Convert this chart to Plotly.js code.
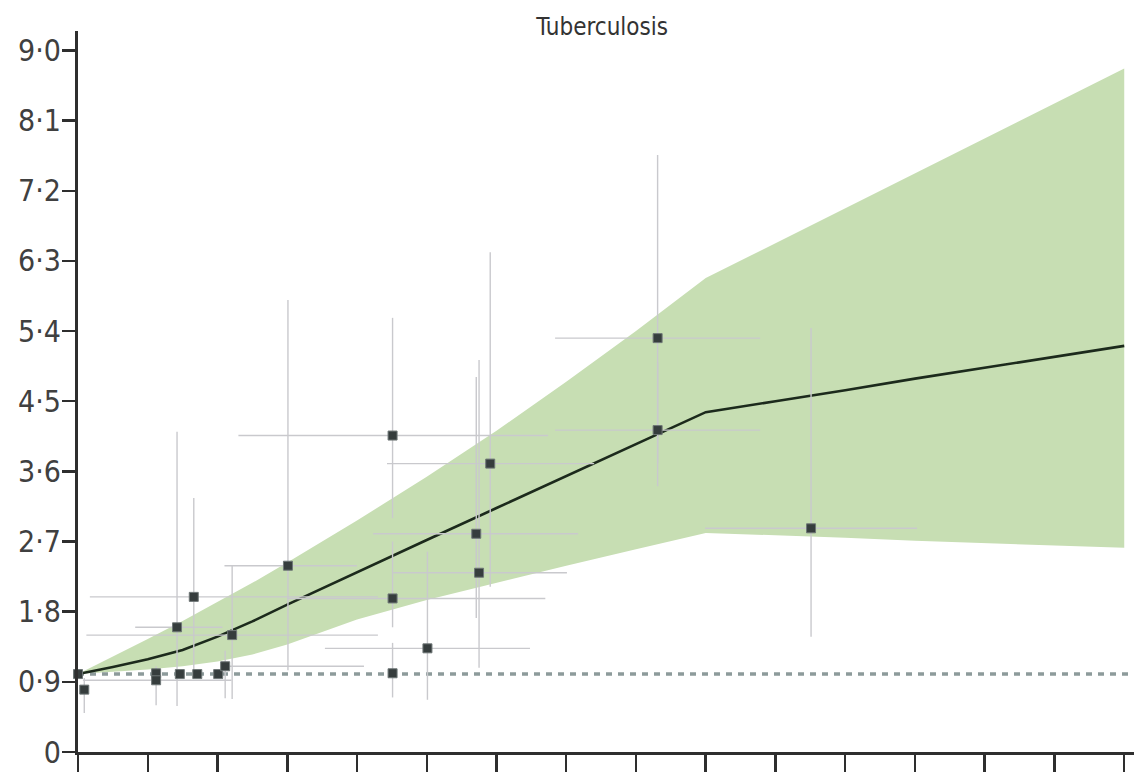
<!DOCTYPE html>
<html>
<head>
<meta charset="utf-8">
<script src="https://cdn.plot.ly/plotly-3.0.1.min.js"></script>
<style>html,body{margin:0;padding:0;background:#fff;}#chart{width:1134px;height:774px;}</style>
</head>
<body>
<div id="chart"></div>
<script>
// ---- data ----
const titleText = 'Tuberculosis';
const xTickVals = [0,10,20,30,40,50,60,70,80,90,100,110,120,130,140,150];
const yTickVals = [0,0.9,1.8,2.7,3.6,4.5,5.4,6.3,7.2,8.1,9.0];
const yTickText = ['0','0·9','1·8','2·7','3·6','4·5','5·4','6·3','7·2','8·1','9·0'];

const curveX = [0,5,10,15,20,25,30,35,40,50,60,70,80,90,100,110,120,130,140,150];
const curveY = [1.00,1.09,1.19,1.31,1.48,1.675,1.89,2.10,2.31,2.72,3.13,3.54,3.95,4.36,4.50,4.64,4.79,4.93,5.07,5.21];
const upperY = [1.00,1.22,1.45,1.68,1.92,2.17,2.43,2.70,2.97,3.53,4.12,4.75,5.40,6.08,6.53,6.97,7.42,7.87,8.32,8.77];
const lowerY = [1.00,1.03,1.06,1.10,1.16,1.25,1.38,1.54,1.70,1.95,2.17,2.39,2.60,2.81,2.78,2.75,2.71,2.68,2.65,2.62];

const refX = [0, 151.4];
const refY = [1, 1];

const ptX   = [0,   0.9, 11.2, 11.2, 14.2, 16.6, 14.6, 17.1, 20.1, 21.1, 22.1, 30.1, 45.1, 45.1, 45.1, 50.1, 57.1, 57.5, 59.1, 83.1, 83.1, 105.1];
const ptY   = [1.0, 0.80, 1.01, 0.92, 1.60, 1.99, 1.00, 1.00, 1.00, 1.10, 1.50, 2.39, 4.06, 1.97, 1.01, 1.33, 2.80, 2.30, 3.70, 5.31, 4.13, 2.87];
const ptXlo = [0,   0.9, 11.2, 0.7,  8.2,  1.7,  14.6, 17.1, 20.1, 21.1, 1.2,  21.0, 23.0, 30.0, 45.1, 35.4, 42.3, 45.2, 44.3, 68.4, 68.4, 89.9];
const ptXhi = [0,   0.9, 11.2, 22.0, 20.7, 43.0, 14.6, 17.1, 20.1, 41.0, 43.0, 40.0, 67.4, 67.0, 45.1, 64.8, 71.7, 70.1, 74.0, 97.8, 97.8, 120.3];
const ptYlo = [1.0, 0.50, 0.92, 0.60, 0.59, 1.00, 0.95, 0.95, 0.95, 0.69, 0.68, 1.05, 3.00, 1.60, 0.70, 0.67, 1.72, 1.08, 2.12, 3.70, 3.41, 1.48];
const ptYhi = [1.0, 0.95, 1.10, 1.05, 4.11, 3.26, 1.05, 1.05, 1.05, 1.30, 2.40, 5.80, 5.57, 2.70, 1.40, 2.57, 4.81, 5.03, 6.41, 7.66, 5.00, 5.44];

// ---- traces ----
const errPlus  = (hi, v) => hi.map((h, i) => h - v[i]);
const errMinus = (lo, v) => lo.map((l, i) => v[i] - l);

const traces = [
  { x: curveX, y: lowerY, mode: 'lines', line: {width: 0, color: 'rgba(0,0,0,0)'}, hoverinfo: 'skip', showlegend: false },
  { x: curveX, y: upperY, mode: 'lines', fill: 'tonexty', fillcolor: '#c7deb3', line: {width: 0, color: 'rgba(0,0,0,0)'}, hoverinfo: 'skip', showlegend: false },
  { x: refX, y: refY, mode: 'lines', line: {color: '#8d9b9b', width: 3.5, dash: '6px,6px'}, showlegend: false, cliponaxis: false },
  { x: curveX, y: curveY, mode: 'lines', line: {color: '#1c2a1c', width: 2.6}, showlegend: false },
  { x: ptX, y: ptY, mode: 'markers', cliponaxis: false, showlegend: false,
    marker: {symbol: 'square', size: 9, color: '#363d3d', line: {color: '#6f7777', width: 1}},
    error_x: {type: 'data', symmetric: false, array: errPlus(ptXhi, ptX), arrayminus: errMinus(ptXlo, ptX), color: '#c9c9cd', thickness: 1.4, width: 0},
    error_y: {type: 'data', symmetric: false, array: errPlus(ptYhi, ptY), arrayminus: errMinus(ptYlo, ptY), color: '#c9c9cd', thickness: 1.4, width: 0}
  }
];

const tickFont = {family: 'Liberation Sans Narrow, DejaVu Sans Condensed, Arial Narrow, sans-serif', size: 30, color: '#404040'};

const layout = {
  width: 1134, height: 774,
  margin: {l: 78, r: 0, t: 31, b: 22, pad: 0},
  paper_bgcolor: '#ffffff', plot_bgcolor: '#ffffff',
  title: {text: titleText, x: 0.531, xref: 'container', xanchor: 'center', y: 0.965, yref: 'container', yanchor: 'middle',
          font: {family: 'Liberation Sans Narrow, DejaVu Sans Condensed, sans-serif', size: 24, color: '#333333'}},
  xaxis: {range: [0, 151.4], tickmode: 'array', tickvals: xTickVals, showticklabels: false,
          ticks: 'outside', ticklen: 17, tickwidth: 2.5, tickcolor: '#2e2e2e',
          showline: true, linecolor: '#2e2e2e', linewidth: 3, showgrid: false, zeroline: false, fixedrange: true},
  yaxis: {range: [0, 9.25], tickmode: 'array', tickvals: yTickVals, ticktext: yTickText,
          ticks: 'outside', ticklen: 13, tickwidth: 2.5, tickcolor: '#2e2e2e', tickfont: tickFont,
          ticklabelstandoff: -5,
          showline: true, linecolor: '#2e2e2e', linewidth: 3, showgrid: false, zeroline: false, fixedrange: true},
  showlegend: false
};

Plotly.newPlot('chart', traces, layout, {displayModeBar: false, staticPlot: true});
</script>
</body>
</html>
